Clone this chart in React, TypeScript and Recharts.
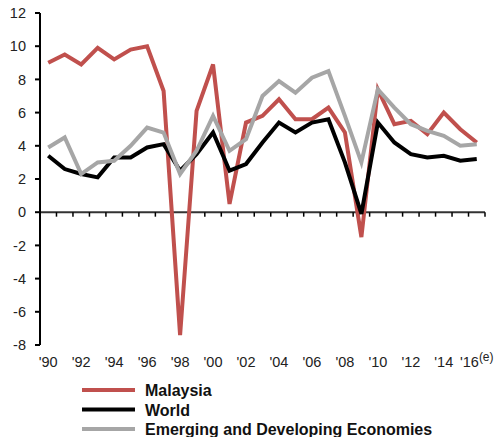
import { LineChart, Line, XAxis, YAxis, ReferenceLine } from "recharts";

const years = [
  1990, 1991, 1992, 1993, 1994, 1995, 1996, 1997, 1998, 1999, 2000, 2001, 2002, 2003,
  2004, 2005, 2006, 2007, 2008, 2009, 2010, 2011, 2012, 2013, 2014, 2015, 2016,
];
const malaysia = [
  9.0, 9.5, 8.9, 9.9, 9.2, 9.8, 10.0, 7.3, -7.4, 6.1, 8.9, 0.5, 5.4, 5.8, 6.8, 5.6, 5.6,
  6.3, 4.8, -1.5, 7.4, 5.3, 5.5, 4.7, 6.0, 5.0, 4.2,
];
const world = [
  3.4, 2.6, 2.3, 2.1, 3.3, 3.3, 3.9, 4.1, 2.5, 3.5, 4.8, 2.5, 2.9, 4.2, 5.4, 4.8, 5.4,
  5.6, 3.0, -0.1, 5.4, 4.2, 3.5, 3.3, 3.4, 3.1, 3.2,
];
const emerging = [
  3.9, 4.5, 2.3, 3.0, 3.1, 4.0, 5.1, 4.8, 2.3, 3.7, 5.8, 3.7, 4.4, 7.0, 7.9, 7.2, 8.1,
  8.5, 5.8, 3.0, 7.4, 6.3, 5.3, 4.9, 4.6, 4.0, 4.1,
];
const xTicks = [1990, 1992, 1994, 1996, 1998, 2000, 2002, 2004, 2006, 2008, 2010, 2012, 2014, 2016];
const yTicks = [-8, -6, -4, -2, 0, 2, 4, 6, 8, 10, 12];

const series = [
  { key: "malaysia", name: "Malaysia", color: "#c0504d" },
  { key: "world", name: "World", color: "#000000" },
  { key: "emerging", name: "Emerging and Developing Economies", color: "#a6a6a6" },
];

const data = years.map((year, i) => ({
  year,
  malaysia: malaysia[i],
  world: world[i],
  emerging: emerging[i],
}));

// category boundaries, where the small tick marks sit on the zero line
const boundaries = years.map((y) => y + 0.5);

const FONT = "'Liberation Sans', Arial, sans-serif";

function XTick(props: any) {
  const { x, y, payload } = props;
  const yr = payload.value as number;
  const label = `'${String(yr).slice(2)}`;
  return (
    <text x={x} y={y + 14} textAnchor="middle" fontSize={14.5} fill="#222" fontFamily={FONT}>
      {label}
      {yr === 2016 && (
        <tspan fontSize={12} dy={-6}>
          (e)
        </tspan>
      )}
    </text>
  );
}

export default function App() {
  return (
    <div style={{ position: "absolute", left: 0, top: 0, width: 504, height: 437, background: "#fff" }}>
      <LineChart
        width={504}
        height={375}
        data={data}
        margin={{ top: 13, right: 19, bottom: 10, left: 0 }}
      >
        <XAxis
          dataKey="year"
          type="number"
          domain={[1989.5, 2016.5]}
          ticks={xTicks}
          tick={<XTick />}
          axisLine={false}
          tickLine={false}
          height={20}
          interval={0}
        />
        <YAxis
          domain={[-8, 12]}
          ticks={yTicks}
          width={40}
          axisLine={{ stroke: "#000", strokeWidth: 2 }}
          tickLine={{ stroke: "#000", strokeWidth: 2 }}
          tickSize={5}
          tickMargin={9}
          tick={{ fontSize: 14.5, fill: "#222", fontFamily: FONT }}
          interval={0}
        />
        <ReferenceLine y={0} stroke="#333" strokeWidth={2} />
        {boundaries.map((b) => (
          <ReferenceLine
            key={b}
            segment={[
              { x: b, y: 0 },
              { x: b, y: -0.27 },
            ]}
            stroke="#000"
            strokeWidth={1.5}
            ifOverflow="visible"
          />
        ))}
        {series.map((s) => (
          <Line
            key={s.key}
            dataKey={s.key}
            name={s.name}
            type="linear"
            stroke={s.color}
            strokeWidth={4}
            dot={false}
            isAnimationActive={false}
          />
        ))}
      </LineChart>
      <svg width={504} height={62} style={{ position: "absolute", left: 0, top: 375 }}>
        {series.map((s, i) => (
          <g key={s.key}>
            <line x1={82} x2={135} y1={15 + i * 19.5} y2={15 + i * 19.5} stroke={s.color} strokeWidth={4} />
            <text
              x={145}
              y={21 + i * 19.5}
              fontSize={16}
              fontWeight="bold"
              fill="#111"
              fontFamily={FONT}
            >
              {s.name}
            </text>
          </g>
        ))}
      </svg>
    </div>
  );
}
